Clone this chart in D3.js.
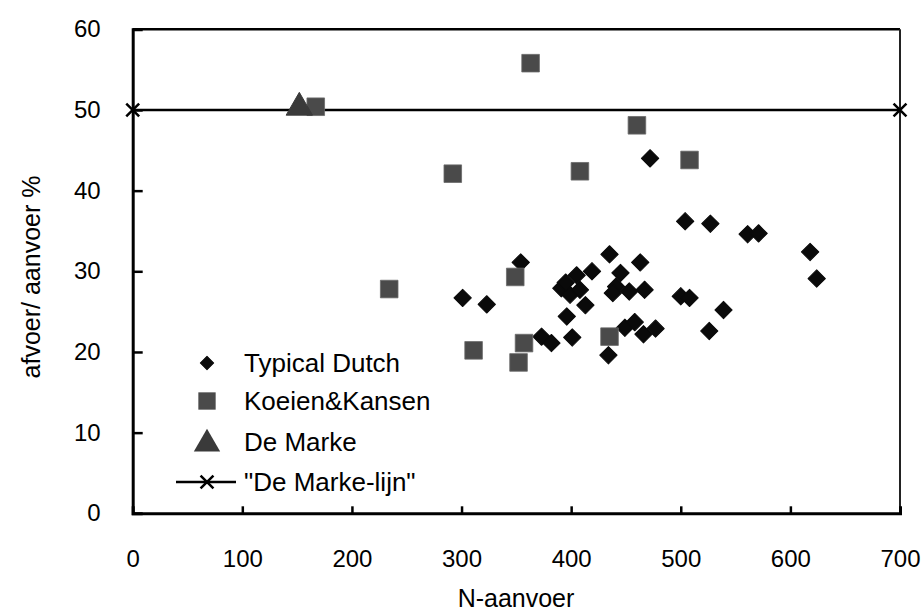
<!DOCTYPE html>
<html><head><meta charset="utf-8">
<script src="https://cdn.jsdelivr.net/npm/d3@7/dist/d3.min.js"></script>
<style>body{margin:0;background:#fff}svg{display:block}text{font-family:"Liberation Sans",Arial,sans-serif}</style>
</head><body>
<script>
const typicalDutch = [
 [472,44.0],[354,31.1],[301,26.7],[323,25.9],[373,21.9],[382,21.1],[391,27.9],[399,27.1],
 [408,27.7],[405,29.5],[419,30.0],[413,25.8],[396,24.4],[401,21.8],[435,32.1],[463,31.1],
 [445,29.8],[441,28.1],[438,27.3],[453,27.5],[467,27.7],[434,19.6],[449,23.0],[458,23.7],
 [466,22.2],[477,22.9],[504,36.2],[527,35.9],[561,34.6],[571,34.7],[618,32.4],[624,29.1],
 [500,26.9],[508,26.7],[539,25.2],[526,22.6],[395,28.6]
];
const koeienKansen = [
 [167,50.4],[363,55.8],[460,48.1],[508,43.8],[292,42.1],[408,42.4],
 [234,27.8],[349,29.3],[311,20.2],[357,21.1],[352,18.7],[435,21.9]
];
const deMarke = [[152,50.3]];
const deMarkeLijn = [[0,50],[700,50]];
const xTicks = [0,100,200,300,400,500,600,700];
const yTicks = [0,10,20,30,40,50,60];
const seriesNames = ["Typical Dutch","Koeien&Kansen","De Marke","\"De Marke-lijn\""];

const W=922,H=613;
const svg=d3.select("body").append("svg").attr("width",W).attr("height",H);
const x=d3.scaleLinear().domain([0,700]).range([132.7,900]);
const y=d3.scaleLinear().domain([0,60]).range([513.3,29.3]);

// frame
svg.append("line").attr("x1",x(0)).attr("x2",x(700)).attr("y1",y(60)).attr("y2",y(60)).attr("stroke","#000").attr("stroke-width",2.5);
svg.append("line").attr("x1",x(700)).attr("x2",x(700)).attr("y1",y(60)).attr("y2",y(0)).attr("stroke","#222").attr("stroke-width",2);

// axes
const yAxis=svg.append("g").attr("transform",`translate(${x(0)},0)`)
 .call(d3.axisLeft(y).tickValues(yTicks).tickSize(-10).tickPadding(32).tickFormat(d3.format("d")));
const xAxis=svg.append("g").attr("transform",`translate(0,${y(0)})`)
 .call(d3.axisBottom(x).tickValues(xTicks).tickSize(-7).tickPadding(37).tickFormat(d3.format("d")));
[yAxis,xAxis].forEach(a=>{
 a.select(".domain").attr("stroke","#000").attr("stroke-width",3);
 a.selectAll(".tick line").attr("stroke","#000").attr("stroke-width",2.5);
 a.selectAll(".tick text").attr("fill","#000").style("font-size","24px");
});
xAxis.selectAll(".tick").filter(d=>d===0||d===700).select("line").remove();
yAxis.selectAll(".tick").filter(d=>d===0||d===60).select("line").remove();

// axis titles
svg.append("text").attr("x",516).attr("y",607).attr("text-anchor","middle").style("font-size","25px").text("N-aanvoer");
svg.append("text").attr("transform","translate(40,277) rotate(-90)").attr("text-anchor","middle").style("font-size","25px").text("afvoer/ aanvoer %");

// line series
svg.append("path").datum(deMarkeLijn).attr("d",d3.line().x(d=>x(d[0])).y(d=>y(d[1])))
 .attr("stroke","#000").attr("stroke-width",2.5).attr("fill","none");
const cross=d3.symbol().type(d3.symbolX).size(110);
svg.selectAll(".xm").data(deMarkeLijn).join("path").attr("d",cross)
 .attr("transform",d=>`translate(${x(d[0])},${y(d[1])})`).attr("stroke","#000").attr("stroke-width",2.5).attr("fill","none");

// series
const diamond=d3.symbol().type(d3.symbolSquare).size(150);
svg.selectAll(".td").data(typicalDutch).join("path").attr("d",diamond)
 .attr("transform",d=>`translate(${x(d[0])},${y(d[1])}) rotate(45)`).attr("fill","#0a0a0a")
 .attr("stroke","#0a0a0a").attr("stroke-width",1).attr("stroke-linejoin","round");
const square=d3.symbol().type(d3.symbolSquare).size(310);
svg.selectAll(".kk").data(koeienKansen).join("path").attr("d",square)
 .attr("transform",d=>`translate(${x(d[0])},${y(d[1])})`).attr("fill","#4a4a4a").attr("stroke","#6a6a6a").attr("stroke-width",0.8);
const tri=d3.symbol().type(d3.symbolTriangle).size(300);
svg.selectAll(".dm").data(deMarke).join("path").attr("d",tri)
 .attr("transform",d=>`translate(${x(d[0])},${y(d[1])})`).attr("fill","#3a3a3a").attr("stroke","#3a3a3a").attr("stroke-width",1).attr("stroke-linejoin","round");

// legend
const lg=svg.append("g");
const ly=[363,401,442,482], lx=207, tx=244;
lg.append("path").attr("d",d3.symbol().type(d3.symbolSquare).size(90)).attr("transform",`translate(${lx},${ly[0]}) rotate(45)`).attr("fill","#0a0a0a").attr("stroke","#0a0a0a").attr("stroke-linejoin","round");
lg.append("path").attr("d",d3.symbol().type(d3.symbolSquare).size(300)).attr("transform",`translate(${lx},${ly[1]})`).attr("fill","#4a4a4a");
lg.append("path").attr("d",d3.symbol().type(d3.symbolTriangle).size(300)).attr("transform",`translate(${lx},${ly[2]+2})`).attr("fill","#3a3a3a");
lg.append("line").attr("x1",176).attr("x2",236).attr("y1",ly[3]).attr("y2",ly[3]).attr("stroke","#000").attr("stroke-width",2.5);
lg.append("path").attr("d",cross).attr("transform",`translate(${lx},${ly[3]})`).attr("stroke","#000").attr("stroke-width",2.5).attr("fill","none");
lg.selectAll("text").data(seriesNames).join("text").attr("x",tx).attr("y",(d,i)=>ly[i]).attr("dy","0.35em")
 .style("font-size","26px").text(d=>d);
</script>
</body></html>
